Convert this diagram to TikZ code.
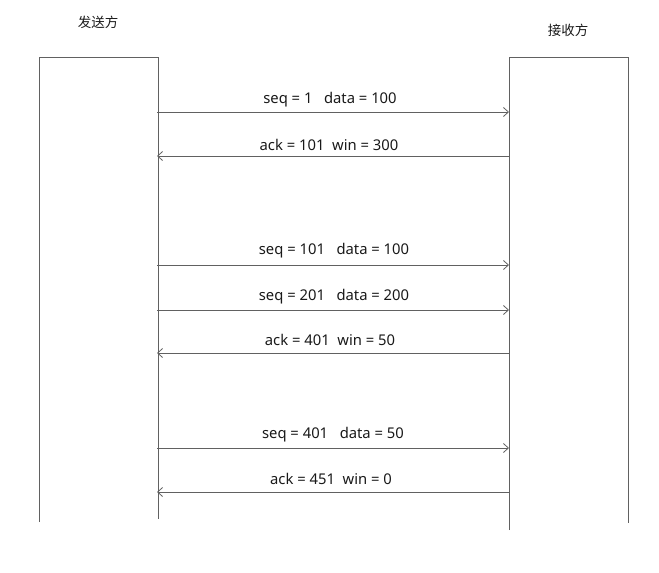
\documentclass[tikz,border=0pt]{standalone}
\usepackage{fontspec}
\setmainfont{Noto Sans}
\newfontfamily\cjkfont{Noto Sans CJK SC}
\usetikzlibrary{arrows.meta}
\begin{document}
\begin{tikzpicture}[x=1pt,y=-1pt,
  lifeline/.style={draw=black!62,line width=0.9pt},
  msg/.style={draw=black!62,line width=0.8pt,-{Straight Barb[length=5pt,width=9pt]}},
  lbl/.style={font=\fontsize{14.8pt}{16pt}\selectfont,inner sep=0pt,text=black!90},
  title/.style={font=\cjkfont\fontsize{13.5pt}{15pt}\selectfont,inner sep=0pt,text=black!90}]
\useasboundingbox (0,0) rectangle (659,573);
% titles
\node[title] (sender) at (98,22) {发送方};
\node[title] (receiver) at (568,30) {接收方};
% lifeline boxes (open at bottom)
\draw[lifeline] (39,522) -- (39,57) -- (158,57) -- (158,519);
\draw[lifeline] (509,530) -- (509,57) -- (628,57) -- (628,523);
% endpoints
\foreach \n/\y in {1/112,2/156,3/265,4/310,5/353,6/448,7/492}{
  \coordinate (L\n) at (157,\y);
  \coordinate (R\n) at (509,\y);
}
\draw[msg] (L1) -- (R1);
\draw[msg] (R2) -- (L2);
\draw[msg] (L3) -- (R3);
\draw[msg] (L4) -- (R4);
\draw[msg] (R5) -- (L5);
\draw[msg] (L6) -- (R6);
\draw[msg] (R7) -- (L7);
% labels
\node[lbl] (m1) at (330,100) {seq = 1\ \ \ data = 100};
\node[lbl] (m2) at (329,145) {ack = 101\ \ win = 300};
\node[lbl] (m3) at (334,251) {seq = 101\ \ \ data = 100};
\node[lbl] (m4) at (334,297) {seq = 201\ \ \ data = 200};
\node[lbl] (m5) at (330,340) {ack = 401\ \ win = 50};
\node[lbl] (m6) at (333,435) {seq = 401\ \ \ data = 50};
\node[lbl] (m7) at (331,479) {ack = 451\ \ win = 0};
\end{tikzpicture}
\end{document}
